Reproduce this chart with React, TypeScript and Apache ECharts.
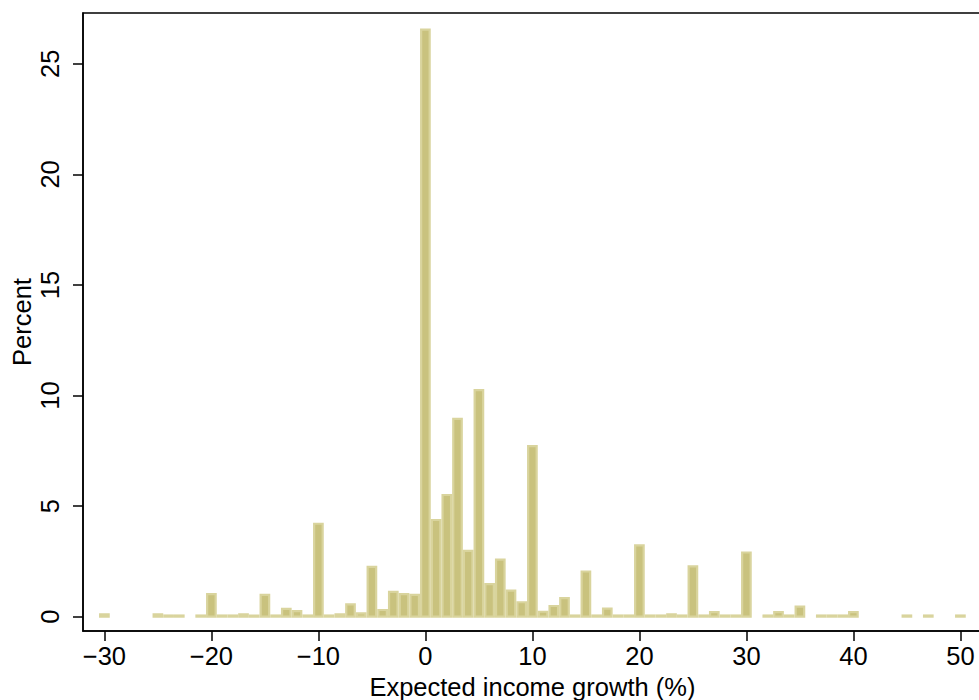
import React, { useEffect, useRef } from "react";
import * as echarts from "echarts";

// Histogram bins (integer centres, width 1) and percent of respondents
const bins: number[] = [
  -30, -25, -24, -23, -21, -20, -19, -18, -17, -16, -15, -14, -13, -12, -11,
  -10, -9, -8, -7, -6, -5, -4, -3, -2, -1, 0, 1, 2, 3, 4, 5, 6, 7, 8, 9, 10,
  11, 12, 13, 14, 15, 16, 17, 18, 19, 20, 21, 22, 23, 24, 25, 26, 27, 28, 29,
  30, 32, 33, 34, 35, 37, 38, 39, 40, 45, 47, 50,
];
const percent: number[] = [
  0.1, 0.1, 0.05, 0.05, 0.05, 1.02, 0.05, 0.05, 0.1, 0.05, 0.98, 0.05, 0.35, 0.25, 0.05,
  4.2, 0.05, 0.1, 0.55, 0.15, 2.25, 0.3, 1.12, 1.02, 0.98, 26.55, 4.37, 5.5, 8.94, 2.97, 10.24, 1.47, 2.58, 1.18, 0.65, 7.71,
  0.22, 0.48, 0.84, 0.05, 2.04, 0.05, 0.36, 0.05, 0.05, 3.22, 0.05, 0.05, 0.1, 0.05, 2.27, 0.05, 0.2, 0.05, 0.05,
  2.9, 0.05, 0.2, 0.05, 0.45, 0.05, 0.05, 0.05, 0.2, 0.05, 0.05, 0.05,
];
const xTicks: number[] = [-30, -20, -10, 0, 10, 20, 30, 40, 50];
const yTicks: number[] = [0, 5, 10, 15, 20, 25];

const FONT = "'Liberation Sans', Arial, Helvetica, sans-serif";
const FONT_SIZE = 25.5;
const BAR_FILL = "#c9c27e";
const BAR_EDGE = "#d9d49d";

export default function App() {
  const ref = useRef<HTMLDivElement>(null);
  useEffect(() => {
    if (!ref.current) return;
    const chart = echarts.init(ref.current, undefined, { renderer: "svg" });
    const data = bins.map((b, i) => [b, percent[i]]);
    chart.setOption({
      animation: false,
      backgroundColor: "#ffffff",
      grid: {
        left: 83,
        top: 13,
        width: 898.8,
        height: 618,
        containLabel: false,
        outerBoundsMode: "none",
        show: true,
        borderColor: "#000",
        borderWidth: 1.5,
        backgroundColor: "transparent",
      },
      xAxis: {
        type: "value",
        min: -32,
        max: 52,
        name: "Expected income growth (%)",
        nameLocation: "middle",
        nameGap: 37,
        nameTextStyle: { fontFamily: FONT, fontSize: FONT_SIZE, color: "#000" },
        axisLine: { show: true, onZero: false, lineStyle: { color: "#000", width: 1.5 } },
        axisTick: { show: true, length: 10, customValues: xTicks, lineStyle: { color: "#000", width: 1.5 } },
        axisLabel: {
          customValues: xTicks,
          margin: 12,
          fontFamily: FONT,
          fontSize: FONT_SIZE,
          color: "#000",
          formatter: (v: number) => (v < 0 ? "\u2212" + Math.abs(v) : String(v)),
        },
        splitLine: { show: false },
      },
      yAxis: {
        type: "value",
        min: -0.65,
        max: 27.3,
        name: "Percent",
        nameLocation: "middle",
        nameGap: 48,
        nameMoveOverlap: false,
        nameTextStyle: { fontFamily: FONT, fontSize: FONT_SIZE, color: "#000" },
        axisLine: { show: true, onZero: false, lineStyle: { color: "#000", width: 1.5 } },
        axisTick: { show: true, length: 10, customValues: yTicks, lineStyle: { color: "#000", width: 1.5 } },
        axisLabel: {
          customValues: yTicks,
          rotate: 90,
          margin: 20,
          fontFamily: FONT,
          fontSize: FONT_SIZE,
          color: "#000",
        },
        splitLine: { show: false },
      },
      series: [
        {
          type: "custom",
          data,
          renderItem: (params: any, api: any) => {
            const x = api.value(0);
            const v = api.value(1);
            const p0 = api.coord([x - 0.5, v]);
            const p1 = api.coord([x + 0.5, 0]);
            const lw = 2.2;
            return {
              type: "rect",
              shape: {
                x: p0[0] + lw / 2,
                y: p0[1],
                width: p1[0] - p0[0] - lw,
                height: p1[1] - p0[1],
              },
              style: { fill: BAR_FILL, stroke: BAR_EDGE, lineWidth: lw },
            };
          },
        },
      ],
    });
    return () => chart.dispose();
  }, []);
  return (
    <div
      ref={ref}
      style={{ position: "absolute", left: 0, top: 0, width: 979, height: 700 }}
    />
  );
}
